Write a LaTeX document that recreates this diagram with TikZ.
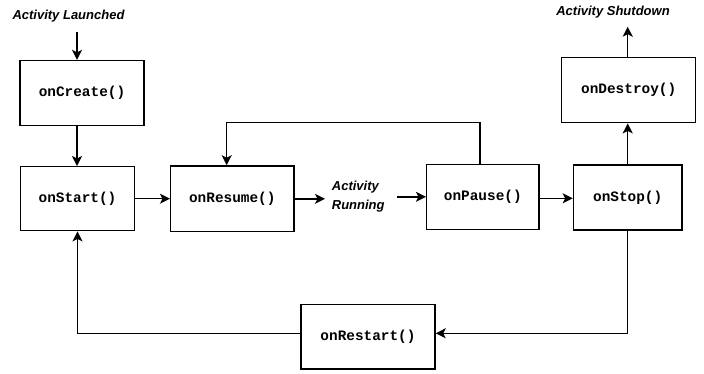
\documentclass[tikz,border=0pt]{standalone}
\usepackage{fontspec}
\setmainfont{Liberation Sans}
\newfontfamily\codefont{Liberation Mono}
\usetikzlibrary{arrows.meta}

\tikzset{
  stage/.style={draw, line width=1.4pt, inner sep=0pt,
    font=\codefont\bfseries\fontsize{14.4}{16}\selectfont},
  event/.style={inner sep=0pt, align=left,
    font=\bfseries\itshape\fontsize{13}{19.3}\selectfont},
  arr/.style={line width=1.4pt, -{Stealth[length=10pt,width=10pt,inset=2.5pt]}}
}

\begin{document}
\begin{tikzpicture}[x=1pt,y=-1pt]
  \useasboundingbox[fill=white] (0,0) rectangle (704,373);

  % lifecycle stages
  \node[stage, minimum width=124pt, minimum height=65pt]   (onCreate)  at (82,93)      {onCreate()};
  \node[stage, minimum width=113.6pt, minimum height=64pt] (onStart)   at (77.5,198.7) {onStart()};
  \node[stage, minimum width=123.3pt, minimum height=65.7pt] (onResume) at (232.3,198.8) {onResume()};
  \node[stage, minimum width=112.3pt, minimum height=65pt] (onPause)   at (482.8,196.8) {onPause()};
  \node[stage, minimum width=108.7pt, minimum height=65pt] (onStop)    at (627.7,197.5) {onStop()};
  \node[stage, minimum width=134pt, minimum height=65.4pt] (onDestroy) at (628.7,90)    {onDestroy()};
  \node[stage, minimum width=134pt, minimum height=64.7pt] (onRestart) at (368,336.7)   {onRestart()};

  % event labels
  \node[event] (launched) at (68.5,15.7) {Activity Launched};
  \node[event] (shutdown) at (613,12.3)  {Activity Shutdown};
  \node[event, anchor=west] (running) at (331.7,196.4) {Activity\\Running};

  \coordinate (launchEnd) at (77,31.7);
  \coordinate (shutEnd) at (627.7,26.7);
  \coordinate (loopTop) at (350,122.7);
  \coordinate (restartLow) at (500,333.3);
  \coordinate (runIn) at ([xshift=-6.7pt]running.west);
  \coordinate (runOut) at ([xshift=12.3pt]running.east);

  % main flow
  \draw[arr] (launchEnd) -- (launchEnd |- onCreate.north);
  \draw[arr] (onCreate.south -| launchEnd) -- (onStart.north -| launchEnd);
  \draw[arr] (onStart.east) -- (onStart.east -| onResume.west);
  \draw[arr] (onResume.east) -- (onResume.east -| runIn);
  \draw[arr] (onPause.west -| runOut) -- (onPause.west);
  \draw[arr] ([yshift=-1.5pt]onPause.east) -- ([yshift=-1.5pt]onPause.east -| onStop.west);
  \draw[arr] (onStop.north) -- (onStop.north |- onDestroy.south);
  \draw[arr] (onStop.north |- onDestroy.north) -- (shutEnd);

  % return paths
  \draw[arr] ([xshift=-2.8pt]onPause.north) |- (loopTop) -| ([xshift=-5.6pt]onResume.north);
  \draw[arr] (onStop.south) |- (restartLow) -- (restartLow -| onRestart.east);
  \draw[arr] (restartLow -| onRestart.west) -| (onStart.south);
\end{tikzpicture}
\end{document}
